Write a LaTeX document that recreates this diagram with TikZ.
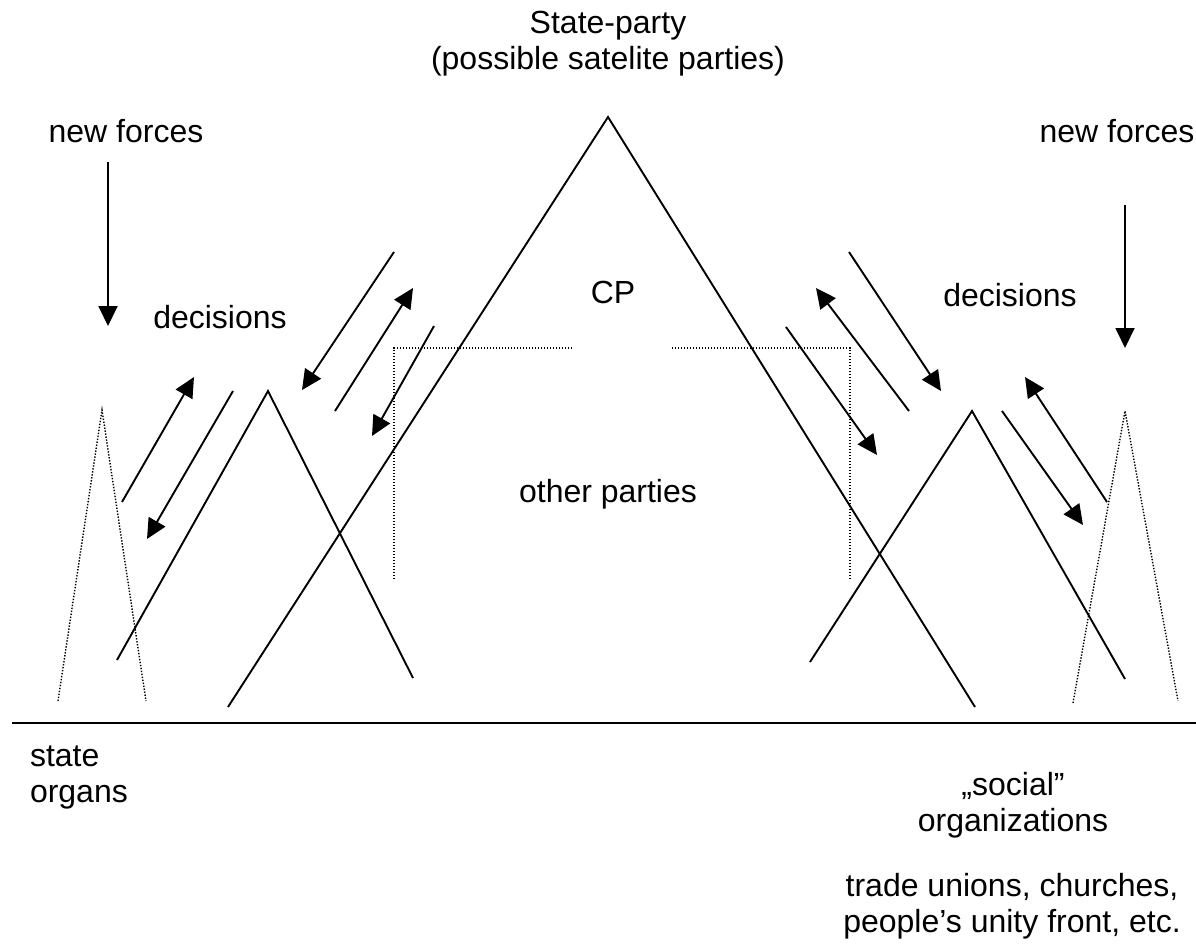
\documentclass[tikz,border=0pt]{standalone}
\usepackage{fontspec}
\setmainfont{Liberation Sans}
\usetikzlibrary{arrows.meta}

\begin{document}
\begin{tikzpicture}[
  x=1pt, y=-1pt,
  every node/.style={inner sep=0pt, outer sep=0pt, font=\fontsize{32}{36}\selectfont},
  solidline/.style={line width=1.9pt, line join=miter},
  dotline/.style={line width=1.4pt, dash pattern=on 1.4pt off 1.6pt},
  ground/.style={line width=2.2pt},
  flow/.style={line width=1.9pt, -{Triangle[length=20pt, width=19pt]}},
  lbl/.style={anchor=base, align=center},
]
\useasboundingbox (0,0) rectangle (1196,948);

% ---------- labels (base anchor = baseline of the last line) ----------
\node[lbl] (title) at (608,69) {State-party\\(possible satelite parties)};
\node[lbl] (nfL) at (126,142) {new forces};
\node[lbl] (nfR) at (1117,142) {new forces};
\node[lbl] (decL) at (220,328) {decisions};
\node[lbl] (decR) at (1010,306) {decisions};
\node[lbl] (cp) at (613,303) {CP};
\node[lbl] (other) at (608,502) {other parties};
\node[anchor=base west, align=left] (state) at (30,802) {state\\organs};
\node[lbl] (social) at (1013,831) {„social”\\organizations};
\node[lbl] (unions) at (1012,932) {trade unions, churches,\\people’s unity front, etc.};

% ---------- ground line ----------
\coordinate (g1) at (12,723);
\coordinate (g2) at (1196,723);
\draw[ground] (g1) -- (g2);

% ---------- central state-party pyramid ----------
\coordinate (mL) at (228,707);
\coordinate (mA) at (608,117);
\coordinate (mR) at (975,707);
\draw[solidline] (mL) -- (mA) -- (mR);

% ---------- decision pyramids ----------
\coordinate (lL) at (117,660);
\coordinate (lA) at (268,391);
\coordinate (lR) at (413,678);
\draw[solidline] (lL) -- (lA) -- (lR);

\coordinate (rL) at (810,662);
\coordinate (rA) at (972,411);
\coordinate (rR) at (1125,679);
\draw[solidline] (rL) -- (rA) -- (rR);

% ---------- state organs / social organizations (dotted) ----------
\coordinate (sL) at (58,701);
\coordinate (sA) at (102,410);
\coordinate (sR) at (146,701);
\draw[dotline] (sL) -- (sA) -- (sR);

\coordinate (oL) at (1073,703);
\coordinate (oA) at (1125,411);
\coordinate (oR) at (1178,701);
\draw[dotline] (oL) -- (oA) -- (oR);

% ---------- other parties frame (dotted) ----------
\coordinate (fL1) at (572,348);
\coordinate (fL2) at (394,348);
\coordinate (fL3) at (394,580);
\coordinate (fR1) at (672,348);
\coordinate (fR2) at (850,348);
\coordinate (fR3) at (850,580);
\draw[dotline] (fL1) -- (fL2) -- (fL3);
\draw[dotline] (fR1) -- (fR2) -- (fR3);

% ---------- new forces ----------
\coordinate (nfL1) at (108,162);
\coordinate (nfL2) at (108,326);
\coordinate (nfR1) at (1125,205);
\coordinate (nfR2) at (1125,348);
\draw[flow] (nfL1) -- (nfL2);
\draw[flow] (nfR1) -- (nfR2);

% ---------- decision flows, left side ----------
\coordinate (a1) at (122,502);  \coordinate (a2) at (194,377);
\coordinate (b1) at (233,391);  \coordinate (b2) at (147,539);
\coordinate (c1) at (394,252);  \coordinate (c2) at (302,390);
\coordinate (d1) at (335,411);  \coordinate (d2) at (413,288);
\coordinate (e1) at (434,326);  \coordinate (e2) at (372,436);
\draw[flow] (a1) -- (a2);
\draw[flow] (b1) -- (b2);
\draw[flow] (c1) -- (c2);
\draw[flow] (d1) -- (d2);
\draw[flow] (e1) -- (e2);

% ---------- decision flows, right side ----------
\coordinate (f1) at (849,252);  \coordinate (f2) at (941,391);
\coordinate (h1) at (909,411);  \coordinate (h2) at (816,288);
\coordinate (i1) at (786,327);  \coordinate (i2) at (877,455);
\coordinate (j1) at (1002,411); \coordinate (j2) at (1083,525);
\coordinate (k1) at (1107,502); \coordinate (k2) at (1025,377);
\draw[flow] (f1) -- (f2);
\draw[flow] (h1) -- (h2);
\draw[flow] (i1) -- (i2);
\draw[flow] (j1) -- (j2);
\draw[flow] (k1) -- (k2);
\end{tikzpicture}
\end{document}
